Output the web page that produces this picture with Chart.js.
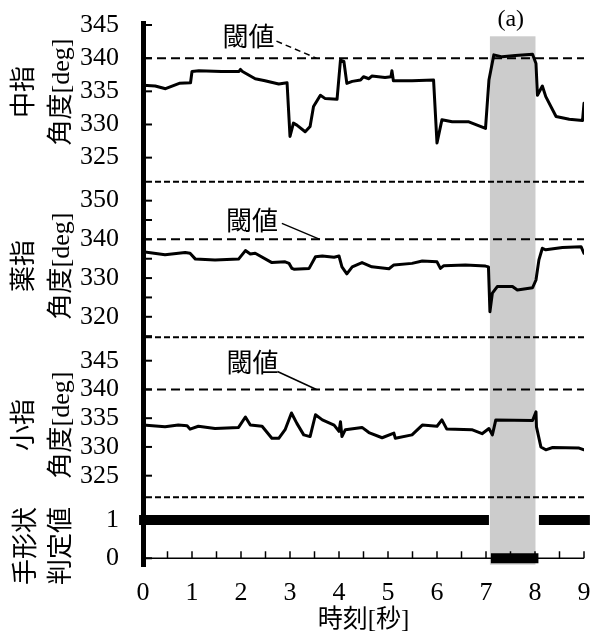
<!DOCTYPE html>
<html><head><meta charset="utf-8">
<script src="https://cdn.jsdelivr.net/npm/chart.js@4"></script>
<style>html,body{margin:0;padding:0;background:#fff}</style>
</head><body>
<canvas id="c" width="598" height="632"></canvas>
<script>
// ---- data ----
const timeMiddle = [0,0.25,0.46,0.74,0.97,1.0,1.14,1.6,1.96,1.99,2.03,2.29,2.49,2.77,2.94,3.0,3.07,3.14,3.31,3.41,3.48,3.62,3.72,3.96,4.03,4.1,4.16,4.27,4.44,4.5,4.61,4.67,4.94,5.06,5.08,5.11,5.49,5.93,6.0,6.1,6.31,6.65,6.99,7.06,7.16,7.33,7.6,7.95,8.02,8.05,8.15,8.22,8.43,8.7,8.97,9.0];
const angleMiddle = [335.9,335.8,335.4,336.2,336.3,338.0,338.1,338.0,338.0,338.3,338.0,336.9,336.6,336.1,336.3,328.2,330.2,329.9,328.9,329.7,332.7,334.4,333.9,333.8,339.7,339.5,336.2,336.5,336.7,337.2,336.9,337.3,337.1,337.2,338.1,336.6,336.6,336.7,327.2,330.7,330.4,330.4,329.4,336.7,340.5,340.2,340.4,340.6,339.2,334.4,335.8,334.2,331.2,330.8,330.6,333.2];

const timeRing = [0,0.45,0.86,0.96,1.07,1.47,1.95,2.09,2.19,2.29,2.63,2.9,2.98,3.04,3.08,3.39,3.52,3.66,3.9,4.0,4.06,4.16,4.27,4.47,4.67,5.02,5.12,5.49,5.7,6.0,6.07,6.14,6.58,6.99,7.05,7.08,7.13,7.23,7.54,7.64,7.95,8.02,8.08,8.15,8.22,8.56,8.94,9.0];
const angleRing = [336.8,336.0,336.6,336.4,334.9,334.7,334.9,337.1,336.2,336.4,334.0,334.2,333.8,332.5,332.3,332.5,335.5,335.7,335.4,335.7,332.9,331.1,332.9,334.0,332.9,332.4,333.4,333.8,334.4,334.2,332.5,333.2,333.4,333.1,332.9,321.3,326.1,327.8,327.8,326.9,327.5,329.5,334.7,337.7,337.3,337.9,338.1,336.4];

const timeLittle = [0,0.45,0.72,0.9,0.96,1.13,1.47,1.95,2.09,2.19,2.43,2.63,2.77,2.9,3.03,3.14,3.28,3.41,3.52,3.66,3.9,4.0,4.03,4.06,4.13,4.47,4.61,4.88,5.12,5.15,5.49,5.7,6.0,6.1,6.2,6.71,6.92,7.06,7.13,7.2,7.95,8.02,8.03,8.12,8.22,8.36,8.9,9.0];
const angleLittle = [333.8,333.5,333.8,333.7,333.1,333.6,333.2,333.4,335.2,333.8,333.6,331.5,331.5,333.0,335.9,334.1,332.1,331.8,335.6,334.7,333.8,332.7,334.4,331.8,333.0,333.4,332.5,331.6,332.4,331.5,332.1,333.8,333.6,334.7,333.1,333.0,332.3,333.2,332.1,334.7,334.6,336.1,333.5,330.0,329.5,329.9,329.8,329.5];

const timeShape = [-0.08,7.06,7.07,7.10,8.07,8.075,8.08,9.12];
const judgeShape = [1,1,null,0,0,null,1,1];

const thresholdAngle = 340;
const highlightSpan = [7.08, 8.01];
const highlightLabel = '(a)';
const thresholdLabel = '閾値';
const xTickValues = [0,1,2,3,4,5,6,7,8,9];
const xTitle = '時刻[秒]';
const panelTitles = [['中指','角度[deg]'],['薬指','角度[deg]'],['小指','角度[deg]'],['手形状','判定値']];
const panelRanges = [[321.37,345.26],[314.7,354.9],[321.24,349.07],[-0.22,1.59]];
const panelSteps = [5,5,5,1];
const ringLabelStep = 10;

// ---- chart ----
const SERIF = "'Liberation Serif','Noto Sans CJK JP',serif";
const axisIds = ['yMid','yRing','yLittle','yShape'];
const weights = [158.4,155.6,160,69.4];

const pts = (t,v) => t.map((x,i)=>({x, y:v[i]}));
const lineDs = (t,v,axis) => ({data:pts(t,v), yAxisID:axis, borderColor:'#000', borderWidth:3, pointRadius:0, tension:0, borderJoinStyle:'round', borderCapStyle:'round'});
const threshDs = axis => ({data:[{x:0,y:thresholdAngle},{x:9,y:thresholdAngle}], yAxisID:axis, borderColor:'#000', borderWidth:2, borderDash:[9,5], pointRadius:0});

const scales = {
  x: {type:'linear', min:0, max:9, position:'bottom',
      afterBuildTicks: s => { s.ticks = xTickValues.map(v=>({value:v})); },
      afterFit: s => { s.height = 65.3; s.paddingLeft = 0; s.paddingRight = 0; },
      grid:{display:false, drawTicks:false}, border:{display:false},
      ticks:{color:'#000', font:{family:SERIF, size:26}, padding:11, maxRotation:0},
      title:{display:true, text:xTitle, color:'#000', font:{family:SERIF, size:25}, padding:{top:0,bottom:-3}}}
};
// stacked axes are placed bottom-up in definition order, so define the bottom panel first
[3,2,1,0].forEach(i=>{
  const id = axisIds[i];
  scales[id] = {type:'linear', position:'left', stack:'panels', stackWeight:weights[i],
    min:panelRanges[i][0], max:panelRanges[i][1],
    afterFit: s => { s.width = 143; s.paddingTop = 0; s.paddingBottom = 0; },
    grid:{display:false, drawTicks:false},
    border:{display:true, color:'#000', width:5},
    ticks:{stepSize:panelSteps[i], includeBounds:false, color:'#000', font:{family:SERIF, size:26}, padding:24,
      callback: (v) => (id==='yRing' && v % ringLabelStep !== 0) ? '' : v,
      autoSkip:false}
  };
});

const annotations = [
  {axis:'yMid', t:3.54, dashed:true, text:[-68,-22], from:[-40,-17]},
  {axis:'yRing', t:3.61, dashed:false, text:[-68,-19], from:[-38,-16]},
  {axis:'yLittle', t:3.54, dashed:false, text:[-64,-27], from:[-39,-18]}
];

const decor = {
  id:'decor',
  beforeDatasetsDraw(chart){
    const {ctx, chartArea:a, scales:s} = chart;
    const x0 = s.x.getPixelForValue(highlightSpan[0]), x1 = s.x.getPixelForValue(highlightSpan[1]);
    ctx.save(); ctx.fillStyle = '#cccccc';
    ctx.fillRect(x0, a.top+13, x1-x0, a.bottom-2-(a.top+13));
    ctx.restore();
  },
  afterDatasetsDraw(chart){
    const {ctx, chartArea:a, scales:s} = chart;
    ctx.save();
    ctx.strokeStyle = '#000';
    // separators between panels
    ctx.lineWidth = 2; ctx.setLineDash([6,3]);
    axisIds.slice(1).forEach(id=>{
      const y = s[id].top;
      ctx.beginPath(); ctx.moveTo(a.left+3, y); ctx.lineTo(a.right, y); ctx.stroke();
    });
    ctx.setLineDash([]);
    // inner y ticks
    ctx.lineWidth = 2;
    axisIds.forEach(id=>{
      s[id].ticks.forEach(t=>{
        const y = s[id].getPixelForValue(t.value);
        ctx.beginPath(); ctx.moveTo(a.left, y); ctx.lineTo(a.left+9, y); ctx.stroke();
      });
    });
    // x axis line at judge value 0
    const y0 = s.yShape.getPixelForValue(0);
    ctx.lineWidth = 1.5;
    ctx.beginPath(); ctx.moveTo(a.left, y0); ctx.lineTo(a.right, y0); ctx.stroke();
    for (let v=0.5; v<=9.001; v+=0.5){
      const x = s.x.getPixelForValue(v);
      ctx.beginPath(); ctx.moveTo(x, y0); ctx.lineTo(x, y0-7); ctx.stroke();
    }
    // threshold annotations
    ctx.fillStyle = '#000';
    ctx.font = "26px 'Noto Sans CJK JP'";
    ctx.textAlign = 'center'; ctx.textBaseline = 'middle';
    annotations.forEach(an=>{
      const ex = s.x.getPixelForValue(an.t), ey = s[an.axis].getPixelForValue(thresholdAngle);
      ctx.fillText(thresholdLabel, ex+an.text[0], ey+an.text[1]);
      ctx.lineWidth = 1.5;
      ctx.setLineDash(an.dashed ? [6,4] : []);
      ctx.beginPath(); ctx.moveTo(ex+an.from[0], ey+an.from[1]); ctx.lineTo(ex, ey); ctx.stroke();
    });
    ctx.setLineDash([]);
    // (a)
    ctx.font = "24px " + SERIF;
    ctx.fillText(highlightLabel, (s.x.getPixelForValue(highlightSpan[0])+s.x.getPixelForValue(highlightSpan[1]))/2 - 2, a.top - 4);
    // panel titles (rotated)
    const centers = [[25,62,92],[25,62,266],[25,62,425],[27,62,546]];
    axisIds.forEach((id,i)=>{
      const [xa, xb, yc] = centers[i];
      ctx.font = "26px " + SERIF;
      [xa, xb].forEach((x,k)=>{
        ctx.save(); ctx.translate(x, yc); ctx.rotate(-Math.PI/2);
        ctx.fillText(panelTitles[i][k], 0, 0); ctx.restore();
      });
    });
    ctx.restore();
  }
};

new Chart(document.getElementById('c'), {
  type:'line',
  data:{datasets:[
    threshDs('yMid'), threshDs('yRing'), threshDs('yLittle'),
    lineDs(timeMiddle, angleMiddle, 'yMid'),
    lineDs(timeRing, angleRing, 'yRing'),
    lineDs(timeLittle, angleLittle, 'yLittle'),
    {data:pts(timeShape, judgeShape), yAxisID:'yShape', borderColor:'#000', borderWidth:10, pointRadius:0, spanGaps:false, clip:false, borderCapStyle:'butt'}
  ]},
  options:{
    responsive:false, animation:false, devicePixelRatio:1,
    layout:{padding:{top:23.3, right:14, left:0, bottom:0}},
    plugins:{legend:{display:false}, tooltip:{enabled:false}},
    scales
  },
  plugins:[decor]
});
</script>
</body></html>
